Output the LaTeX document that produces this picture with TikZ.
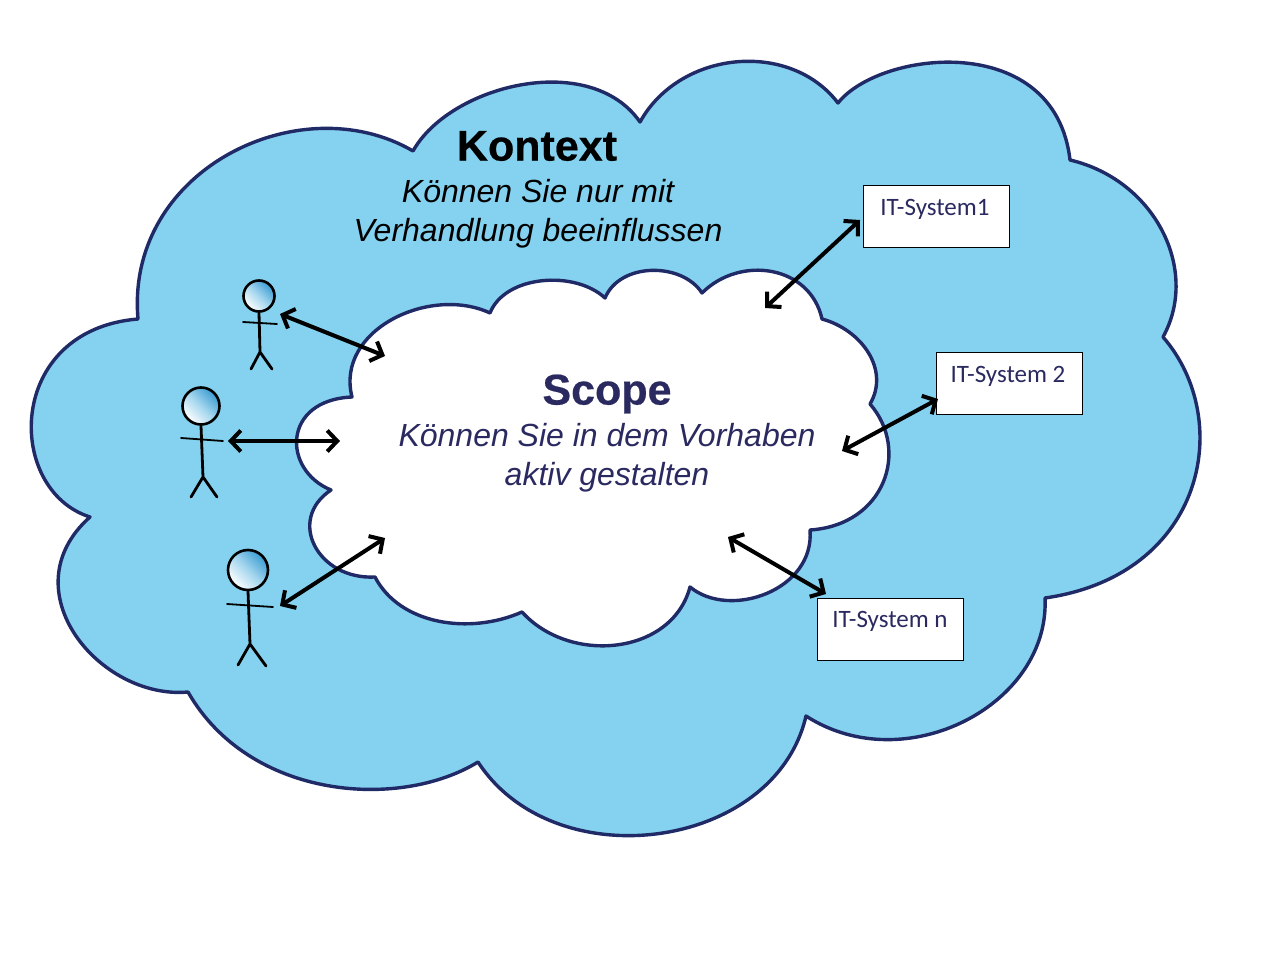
\documentclass[tikz,border=0pt]{standalone}
\usepackage{fontspec}
\setmainfont{Liberation Sans}[BoldFeatures={FakeBold=0.5}]
\newfontfamily\boxfont{Carlito}
\usetikzlibrary{arrows.meta}
\definecolor{skyfill}{HTML}{84D2EF}
\definecolor{navyline}{HTML}{1F2A66}
\definecolor{navytext}{HTML}{2A2A60}
\definecolor{headblue}{HTML}{3A9CD2}
\definecolor{headpale}{HTML}{A4D6EE}
\tikzset{
  cloudshape/.style={draw=navyline,line width=3.4pt,line join=round},
  sysbox/.style={draw=black,fill=white,line width=1pt,minimum width=146pt,minimum height=62pt,inner sep=0pt},
  systext/.style={font=\boxfont\fontsize{25}{29}\selectfont,text=navytext,inner sep=0pt,anchor=center},
  titletext/.style={font=\bfseries\fontsize{43}{50}\selectfont,inner sep=0pt},
  subtext/.style={font=\itshape\fontsize{32}{37}\selectfont,inner sep=0pt},
  link/.style={draw=black,line width=4pt,{Straight Barb[length=10pt,width=21pt]}-{Straight Barb[length=10pt,width=21pt]}},
  stick/.style={draw=black,line width=2.8pt,line cap=round},
  armline/.style={draw=black,line width=1.8pt,line cap=round},
  headball/.style={circle,draw=black,line width=2.6pt,inner sep=0pt,shading=axis,left color=white,right color=headblue,middle color=headpale,shading angle=135}
}
\begin{document}
\begin{tikzpicture}[x=1pt,y=-1pt]
\useasboundingbox (0,0) rectangle (1280,960);
\fill[white] (0,0) rectangle (1280,960);
% outer cloud
\path[cloudshape,fill=skyfill] (413,151)
  .. controls (450,85) and (590,50) .. (640,122)
  .. controls (680,50) and (790,40) .. (838,103)
  .. controls (880,50) and (1055,30) .. (1070,160)
  .. controls (1155,180) and (1200,270) .. (1163,337)
  .. controls (1235,420) and (1205,575) .. (1045,598)
  .. controls (1050,705) and (905,780) .. (806,716)
  .. controls (775,850) and (555,880) .. (478,762)
  .. controls (400,810) and (250,800) .. (188,692)
  .. controls (100,700) and (8,590) .. (90,517)
  .. controls (5,490) and (5,330) .. (138,319)
  .. controls (125,170) and (300,85) .. (413,151) -- cycle;
% inner cloud
\path[cloudshape,fill=white] (490,313)
  .. controls (505,275) and (575,270) .. (605,298)
  .. controls (620,262) and (682,262) .. (702,293)
  .. controls (740,255) and (810,265) .. (822,319)
  .. controls (862,330) and (890,370) .. (870,404)
  .. controls (910,450) and (885,525) .. (810,530)
  .. controls (815,590) and (730,620) .. (690,587)
  .. controls (672,655) and (570,665) .. (522,612)
  .. controls (470,635) and (400,625) .. (375,577)
  .. controls (318,580) and (286,520) .. (331,490)
  .. controls (282,470) and (282,400) .. (352,397)
  .. controls (335,330) and (430,285) .. (490,313) -- cycle;
% texts
\node[titletext] (kontext) at (537,146) {Kontext};
\node[subtext] (k1) at (538,191) {Können Sie nur mit};
\node[subtext] (k2) at (538,233) {Verhandlung beeinflussen};
\node[titletext,text=navytext] (scope) at (607,394) {Scope};
\node[subtext,text=navytext] (s1) at (607,435) {Können Sie in dem Vorhaben};
\node[subtext,text=navytext] (s2) at (607,477) {aktiv gestalten};
% systems
\node[sysbox] (sys1) at (936.5,216.5) {};
\node[sysbox] (sys2) at (1009.5,383.5) {};
\node[sysbox] (sysn) at (890.5,629.5) {};
\node[systext] (t1) at (935,209) {IT-System1};
\node[systext] (t2) at (1008,376) {IT-System 2};
\node[systext] (tn) at (890,621) {IT-System n};
% persons
\node[headball,minimum size=31pt] (h1) at (259,296) {};
\node[headball,minimum size=37pt] (h2) at (201,406) {};
\node[headball,minimum size=40pt] (h3) at (248,570) {};
\coordinate (w1) at (260,352);
\coordinate (w2) at (203,477);
\coordinate (w3) at (250,644);
\coordinate (a1l) at (243,322); \coordinate (a1r) at (277,324);
\coordinate (a2l) at (181,438); \coordinate (a2r) at (223,441);
\coordinate (a3l) at (227,604); \coordinate (a3r) at (273,607);
\coordinate (f1l) at (251,369); \coordinate (f1r) at (272,369);
\coordinate (f2l) at (191,497); \coordinate (f2r) at (217,497);
\coordinate (f3l) at (238,665); \coordinate (f3r) at (266,666);
\draw[stick] (h1.south) -- (w1) (f1l) -- (w1) -- (f1r);
\draw[armline] (a1l) -- (a1r);
\draw[stick] (h2.south) -- (w2) (f2l) -- (w2) -- (f2r);
\draw[armline] (a2l) -- (a2r);
\draw[stick] (h3.south) -- (w3) (f3l) -- (w3) -- (f3r);
\draw[armline] (a3l) -- (a3r);
% connector ends
\coordinate (p1) at (280,314); \coordinate (c1) at (385,356);
\coordinate (p2) at (228,441); \coordinate (c2) at (340,441);
\coordinate (p3) at (280,606); \coordinate (c3) at (385,538);
\coordinate (e1) at (860,220); \coordinate (d1) at (765,308);
\coordinate (e2) at (938,399); \coordinate (d2) at (842,451);
\coordinate (e3) at (826,594); \coordinate (d3) at (728,537);
\draw[link] (p1) -- (c1);
\draw[link] (p2) -- (c2);
\draw[link] (p3) -- (c3);
\draw[link] (e1) -- (d1);
\draw[link] (e2) -- (d2);
\draw[link] (e3) -- (d3);
\end{tikzpicture}
\end{document}
